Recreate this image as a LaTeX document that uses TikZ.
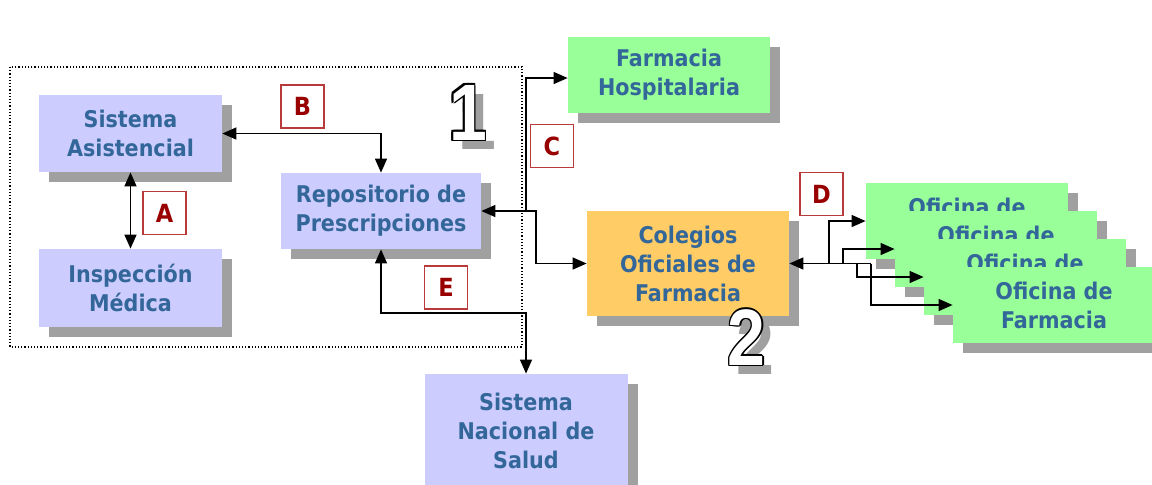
\documentclass[tikz,border=0pt]{standalone}
\usepackage{fontspec}
\usepackage{xcolor}
\usepackage{graphicx}
\usetikzlibrary{arrows.meta, shadows, positioning}

\newfontfamily\boxfont{DejaVu Sans}[FakeStretch=0.9]
\newfontfamily\digitfont{Liberation Sans}

\definecolor{azulcaja}{HTML}{CCCCFF}
\definecolor{verdecaja}{HTML}{99FF99}
\definecolor{naranjacaja}{HTML}{FFCC66}
\definecolor{textoazul}{HTML}{336699}
\definecolor{rojoetq}{HTML}{990000}
\definecolor{bordeetq}{HTML}{B83A3A}
\definecolor{sombra}{HTML}{A0A0A0}

% numero grande con contorno y sombra
\newcommand{\cifra}[3]{%
  \node[cifrasombra, xshift=4.5pt, yshift=-4.5pt] at (#2) {\scalebox{0.85}[1]{#3}};
  \foreach \dx/\dy in {0.75/0, -0.75/0, 0/0.75, 0/-0.75, 0.55/0.55, 0.55/-0.55, -0.55/0.55, -0.55/-0.55}
    \node[cifraborde, xshift=\dx pt, yshift=\dy pt] at (#2) {\scalebox{0.85}[1]{#3}};
  \node[cifrarelleno] (#1) at (#2) {\scalebox{0.85}[1]{#3}};
}

\tikzset{
  caja/.style={rectangle, inner sep=0pt, align=center, text=textoazul,
    font=\boxfont\bfseries\fontsize{11.5}{14.5}\selectfont,
    drop shadow={shadow xshift=5pt, shadow yshift=-5pt, fill=sombra, opacity=1}},
  cajaazul/.style={caja, fill=azulcaja},
  cajaverde/.style={caja, fill=verdecaja, minimum width=101pt, minimum height=38pt},
  cajanaranja/.style={caja, fill=naranjacaja},
  etiqueta/.style={rectangle, draw=bordeetq, line width=0.6pt, fill=white, text=rojoetq,
    minimum size=21.5pt, inner sep=0pt, font=\boxfont\bfseries\fontsize{12.5}{14}\selectfont},
  flecha/.style={line width=0.75pt, >={Triangle[length=7pt,width=6pt]}},
  cifrasombra/.style={inner sep=0pt, text=sombra, font=\digitfont\bfseries\fontsize{40}{40}\selectfont},
  cifraborde/.style={inner sep=0pt, text=black, font=\digitfont\bfseries\fontsize{40}{40}\selectfont},
  cifrarelleno/.style={inner sep=0pt, text=white, font=\digitfont\bfseries\fontsize{40}{40}\selectfont},
}

\begin{document}
\begin{tikzpicture}[x=0.5pt, y=-0.5pt]
\useasboundingbox (0,0) rectangle (1152,484);

\draw[densely dotted, line width=0.6pt] (10,67) rectangle (522,347);

\node[cajaazul, minimum width=91.5pt, minimum height=38.5pt] (sisasis) at (130.5,133.5) {Sistema\\Asistencial};
\node[cajaazul, minimum width=91.5pt, minimum height=39pt] (insp) at (130.5,288) {Inspección\\Médica};
\node[cajaazul, minimum width=100pt, minimum height=38pt] (repo) at (381,211) {Repositorio de\\Prescripciones};
\node[cajaazul, minimum width=101.5pt, minimum height=56.5pt] (sns) at (526,430.5) {Sistema\\Nacional de\\Salud};
\node[cajaverde] (farmhosp) at (669,75) {Farmacia\\Hospitalaria};
\node[cajanaranja, minimum width=101pt, minimum height=52.5pt] (colegios) at (688,263.5) {Colegios\\Oficiales de\\Farmacia};

% las tres primeras quedan tapadas por la siguiente
\node[cajaverde] (ofi1) at (967,221) {Oficina de\\\phantom{Farmacia}};
\node[cajaverde] (ofi2) at ([shift={(29,28)}]ofi1) {Oficina de\\\phantom{Farmacia}};
\node[cajaverde] (ofi3) at ([shift={(29,28)}]ofi2) {Oficina de\\\phantom{Farmacia}};
\node[cajaverde] (ofi4) at ([shift={(29,28)}]ofi3) {Oficina de\\Farmacia};

\coordinate (jc) at (526,211);
\coordinate (jr) at (536,211);
\coordinate (je) at (526,313);
\coordinate (jd1) at (829,263.5);
\coordinate (jd2) at (843,263.5);
\coordinate (jd3) at (857,263.5);
\coordinate (jd4) at (871,263.5);

\draw[flecha, <->] (sisasis) -- (insp);
\draw[flecha, <->] (sisasis.east) -| (repo.north);
\draw[flecha, <->] (repo.east) -- (jr) |- (colegios.west);
\draw[flecha, ->] (jc) |- ([yshift=-1.5pt]farmhosp.west);
\draw[flecha, <->] (repo.south) |- (je) -- (sns.north);
\draw[flecha, <-] (colegios.east) -- (jd4);
\draw[flecha, ->] (jd1) |- (ofi1.west);
\draw[flecha, ->] (jd2) |- (ofi2.west);
\draw[flecha, ->] (jd3) |- (ofi3.west);
\draw[flecha, ->] (jd4) |- (ofi4.west);

\node[etiqueta] (etqA) at (164.5,213) {A};
\node[etiqueta] (etqB) at (302.5,106.5) {B};
\node[etiqueta] (etqC) at (552,146) {C};
\node[etiqueta] (etqD) at (821.5,194) {D};
\node[etiqueta] (etqE) at (446,287.5) {E};

\coordinate (pos1) at (468,112.5);
\coordinate (pos2) at (746.5,337.5);
\cifra{num1}{pos1}{1}
\cifra{num2}{pos2}{2}

\end{tikzpicture}
\end{document}
